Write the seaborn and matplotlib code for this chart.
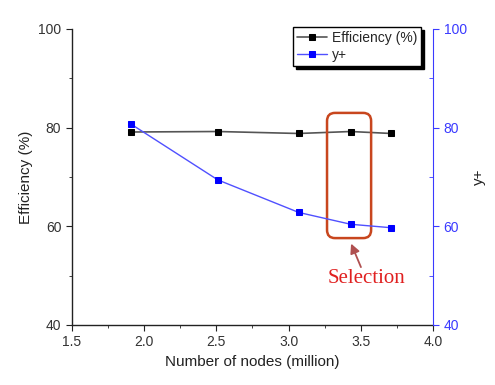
import matplotlib
matplotlib.use("Agg")
import matplotlib.pyplot as plt
import seaborn as sns
import pandas as pd
from matplotlib.patches import FancyBboxPatch
from matplotlib.ticker import MultipleLocator

# values
nodes = [1.91, 2.51, 3.07, 3.43, 3.71]
efficiency = [79.1, 79.2, 78.8, 79.2, 78.8]
yplus = [80.7, 69.4, 62.8, 60.4, 59.7]

df = pd.DataFrame({"nodes": nodes, "Efficiency (%)": efficiency, "y+": yplus})

sns.set_style("ticks")
plt.rcParams["font.family"] = ["Liberation Sans", "DejaVu Sans"]

blue = "#0000ff"
axis_blue = "#3a3aff"

fig = plt.figure(figsize=(4.95, 3.85), dpi=100)
ax = fig.add_axes([0.145, 0.156, 0.73, 0.769])
ax2 = ax.twinx()

sns.lineplot(data=df, x="nodes", y="Efficiency (%)", ax=ax, color="#555555",
             marker="s", markersize=5, markerfacecolor="black",
             markeredgecolor="black", linewidth=1.2, label="Efficiency (%)",
             legend=False)
sns.lineplot(data=df, x="nodes", y="y+", ax=ax2, color="#5050ff",
             marker="s", markersize=5, markerfacecolor=blue,
             markeredgecolor=blue, linewidth=1.0, label="y+", legend=False)

for a in (ax, ax2):
    a.set_ylim(40, 100)
    a.yaxis.set_major_locator(MultipleLocator(20))
    a.yaxis.set_minor_locator(MultipleLocator(10))
ax.set_xlim(1.5, 4.0)
ax.xaxis.set_major_locator(MultipleLocator(0.5))
ax.xaxis.set_minor_locator(MultipleLocator(0.25))

ax.spines["top"].set_visible(False)
ax2.spines["top"].set_visible(False)
ax2.spines["left"].set_visible(False)
ax2.spines["bottom"].set_visible(False)
ax.spines["right"].set_visible(False)
ax2.spines["right"].set_color(axis_blue)
for s in ("left", "bottom"):
    ax.spines[s].set_color("#222222")
    ax.spines[s].set_linewidth(1.0)

ax.tick_params(axis="both", which="major", direction="out", length=4,
               labelsize=10, colors="#222222", labelcolor="#333333")
ax.tick_params(axis="both", which="minor", direction="out", length=2.5,
               colors="#222222")
ax2.tick_params(axis="y", which="major", direction="out", length=4,
                labelsize=10, colors=axis_blue, labelcolor=axis_blue)
ax2.tick_params(axis="y", which="minor", direction="in", length=3,
                colors=axis_blue)

ax.set_xlabel("Number of nodes (million)", fontsize=11, color="#222222")
ax.set_ylabel("Efficiency (%)", fontsize=11, color="#222222")
ax2.set_ylabel("y+", fontsize=11, color="#222222")

h1, l1 = ax.get_legend_handles_labels()
h2, l2 = ax2.get_legend_handles_labels()
leg = ax2.legend(h1 + h2, l1 + l2, loc="upper right",
                 bbox_to_anchor=(0.967, 1.007), borderaxespad=0,
                 fontsize=10, frameon=True, fancybox=False,
                 handlelength=2.2, handletextpad=0.3, borderpad=0.3,
                 labelspacing=0.2,
                 shadow={"color": "black", "alpha": 1, "ox": 2, "oy": -2})
leg.get_frame().set_edgecolor("black")
leg.get_frame().set_linewidth(1.0)

# selection box + arrow + label
box = FancyBboxPatch((3.266, 57.6), 3.571 - 3.266, 82.97 - 57.6,
                     boxstyle="round,pad=0,rounding_size=0.055",
                     mutation_aspect=30, fill=False,
                     edgecolor="#c8461e", linewidth=1.8, zorder=5)
ax.add_patch(box)
ax.annotate("", xy=(3.425, 57.0), xytext=(3.508, 51.2),
            arrowprops=dict(arrowstyle="-|>", color="#b05050", lw=1.3,
                            mutation_scale=14))
ax.text(3.54, 49.4, "Selection", color="#e02020", fontsize=15,
        family=["Liberation Serif", "DejaVu Serif"], ha="center", va="center")

fig.savefig("out.png", dpi=100)
